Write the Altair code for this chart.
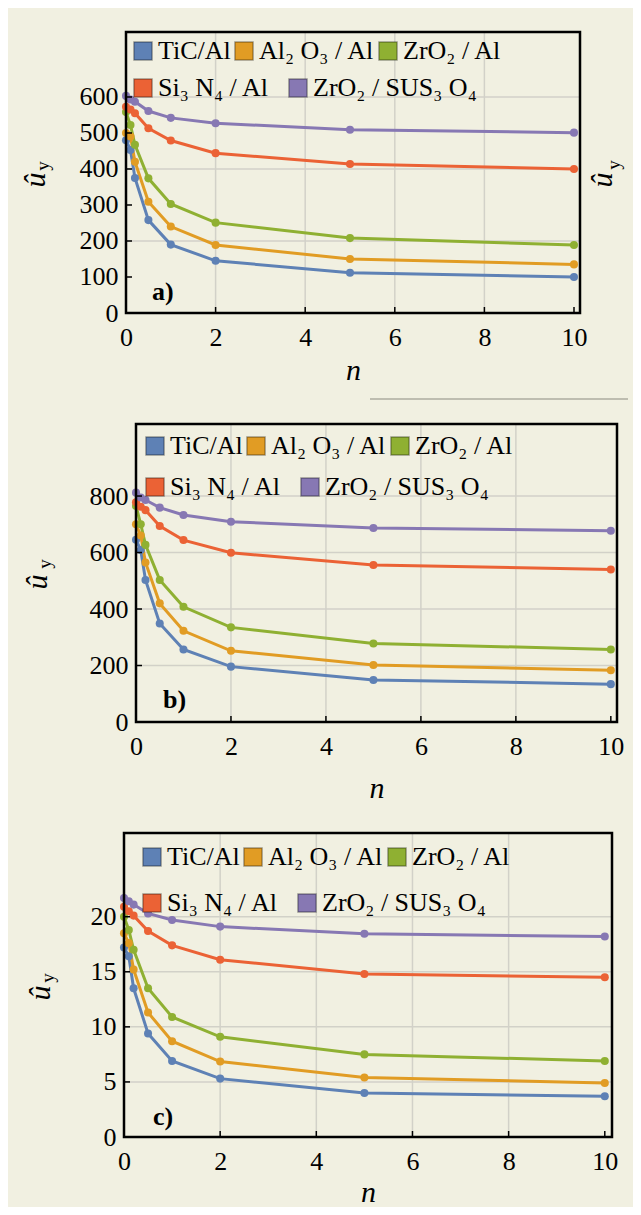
import altair as alt
import pandas as pd

# ---------------- data ----------------
N_VALUES = [0, 0.1, 0.2, 0.5, 1, 2, 5, 10]
SERIES = [
    "TiC/Al",
    "Al₂ O₃ / Al",
    "ZrO₂ / Al",
    "Si₃ N₄ / Al",
    "ZrO₂ / SUS₃ O₄",
]
ROW1 = SERIES[:3]
ROW2 = SERIES[3:]
COLORS = ["#5E81B5", "#E19C24", "#8FB032", "#EB6235", "#8778B3"]
X_TICKS = [0, 2, 4, 6, 8, 10]
X_GRID = [2, 4, 6, 8]

# panel a)
A_TIC = [480, 453, 375, 258, 190, 145, 112, 100]
A_AL2O3 = [500, 490, 420, 309, 240, 189, 150, 135]
A_ZRO2 = [558, 522, 467, 374, 303, 251, 208, 189]
A_SI3N4 = [573, 565, 555, 513, 479, 444, 414, 400]
A_SUS = [603, 593, 587, 561, 542, 527, 509, 501]
A_YTICKS = [0, 100, 200, 300, 400, 500, 600]
A_YGRID = [200, 400, 600]

# panel b)
B_TIC = [645, 609, 503, 349, 257, 196, 149, 134]
B_AL2O3 = [700, 660, 565, 420, 323, 252, 202, 183]
B_ZRO2 = [765, 700, 627, 503, 408, 335, 278, 257]
B_SI3N4 = [778, 762, 750, 694, 644, 599, 556, 540]
B_SUS = [812, 795, 786, 759, 733, 709, 687, 677]
B_YTICKS = [0, 200, 400, 600, 800]
B_YGRID = [200, 400, 600, 800]

# panel c)
C_TIC = [17.2, 16.4, 13.5, 9.4, 6.9, 5.3, 4.0, 3.7]
C_AL2O3 = [18.5, 17.6, 15.2, 11.3, 8.7, 6.85, 5.4, 4.9]
C_ZRO2 = [20.0, 18.8, 17.0, 13.5, 10.9, 9.1, 7.5, 6.9]
C_SI3N4 = [20.9, 20.5, 20.1, 18.7, 17.4, 16.1, 14.8, 14.5]
C_SUS = [21.7, 21.4, 21.1, 20.3, 19.7, 19.1, 18.45, 18.2]
C_YTICKS = [0, 5, 10, 15, 20]
C_YGRID = [5, 10, 15, 20]

# ---------------- style ----------------
BG = "#F1F0E1"
GRID = "#D2D1C8"
SERIF = "Liberation Serif, Tinos, Times New Roman, Times, serif"
LEFT = 116      # room left of the common plot origin
RIGHT_EDGE = 509  # right end of every cell, relative to the origin


def make_df(series_vals):
    rows = []
    for s, arr in zip(SERIES, series_vals):
        for n, v in zip(N_VALUES, arr):
            rows.append({"n": n, "v": v, "s": s, "s2": s})
    return pd.DataFrame(rows)


def txt(one, text, x, y, size, style="normal", weight="normal", angle=0,
        align="center"):
    return alt.Chart(one).mark_text(
        text=text, font=SERIF, fontSize=size, fontStyle=style,
        fontWeight=weight, angle=angle, align=align, baseline="alphabetic",
        color="black").encode(x=alt.value(x), y=alt.value(y))


def legend(values, x, y, colpad):
    return alt.Legend(
        title=None, orient="none", legendX=x, legendY=y,
        direction="horizontal", columns=len(values), values=values,
        symbolType="square", symbolSize=330, symbolStrokeWidth=1.5,
        symbolStrokeColor="#00000055", symbolOpacity=1,
        labelFont=SERIF, labelFontSize=26, labelColor="black",
        labelLimit=400, columnPadding=colpad, labelOffset=2, padding=0)


def panel(vals, dx, W, H, xmax, ymax, yticks, ygrid, T, B, tag, tag_pos,
          ut_pos, sub_pos, leg_x, leg_y1, leg_y2, xtitle_y, extras=None):
    df = make_df(vals)
    one = pd.DataFrame({"k": [0]})
    xs = alt.Scale(domain=[0, xmax], range=[dx, dx + W], nice=False, zero=False)
    ys = alt.Scale(domain=[0, ymax], nice=False, zero=False)
    xaxis = alt.Axis(values=X_TICKS, title="n", titleX=dx + W / 2,
                     titleY=xtitle_y, titleBaseline="alphabetic",
                     titleFont=SERIF, titleFontSize=30, titleFontStyle="italic",
                     titleFontWeight="normal", titleColor="black",
                     labelFont=SERIF, labelFontSize=26, labelColor="black",
                     labelPadding=11, labelFlush=False, labelOverlap=False,
                     domain=False, ticks=False, grid=False)
    yaxis = alt.Axis(values=yticks, title=None, labelPadding=8 - dx,
                     labelFont=SERIF, labelFontSize=26, labelColor="black",
                     labelFlush=False, labelOverlap=False,
                     domain=False, ticks=False, grid=False)

    def X():
        return alt.X("n:Q", scale=xs, axis=xaxis)

    def Y():
        return alt.Y("v:Q", scale=ys, axis=yaxis)

    spacer = alt.Chart(one).mark_rect(fillOpacity=0, strokeOpacity=0).encode(
        x=alt.value(-LEFT), x2=alt.value(RIGHT_EDGE),
        y=alt.value(-T), y2=alt.value(H + B))
    vgrid = alt.Chart(pd.DataFrame({"n": X_GRID})).mark_rule(
        color=GRID, strokeWidth=1.5).encode(x=X(), y=alt.value(0), y2=alt.value(H))
    hgrid = alt.Chart(pd.DataFrame({"v": ygrid})).mark_rule(
        color=GRID, strokeWidth=1.5).encode(
        y=Y(), x=alt.value(dx), x2=alt.value(dx + W))
    lines = []
    for s, c in zip(SERIES, COLORS):
        lines.append(alt.Chart(df[df["s"] == s]).mark_line(
            strokeWidth=3, color=c).encode(x=X(), y=Y()))
    pts = alt.Chart(df[df["s"].isin(ROW1)]).mark_circle(size=65, opacity=1).encode(
        x=X(), y=Y(),
        color=alt.Color("s:N", scale=alt.Scale(domain=ROW1, range=COLORS[:3]),
                        legend=legend(ROW1, leg_x, leg_y1, 0)))
    # second legend row (Mathematica-style flowing legend): the points of
    # the last two series, coloured through a second (fill) scale
    pts2 = alt.Chart(df[df["s"].isin(ROW2)]).mark_circle(
        size=65, opacity=1).encode(
        x=X(), y=Y(),
        fill=alt.Fill("s2:N", scale=alt.Scale(domain=ROW2, range=COLORS[3:]),
                      legend=legend(ROW2, leg_x, leg_y2, 15)))
    lticks = alt.Chart(pd.DataFrame({"v": yticks})).mark_rule(
        color="black", strokeWidth=1.5).encode(
        y=Y(), x=alt.value(dx), x2=alt.value(dx + 6))
    bticks = alt.Chart(pd.DataFrame({"n": X_TICKS})).mark_rule(
        color="black", strokeWidth=1.5).encode(
        x=X(), y=alt.value(H), y2=alt.value(H - 6))
    frame = alt.Chart(one).mark_rect(
        fillOpacity=0, stroke="black", strokeWidth=2.5).encode(
        x=alt.value(dx), x2=alt.value(dx + W), y=alt.value(0), y2=alt.value(H))
    tagt = txt(one, tag, tag_pos[0], tag_pos[1], 26, weight="bold", align="left")
    ut = txt(one, "û", ut_pos[0], ut_pos[1], 30, style="italic", angle=270)
    sub = txt(one, "y", sub_pos[0], sub_pos[1], 19, angle=270)
    layers = [spacer, vgrid, hgrid] + lines + [pts, pts2, lticks, bticks, frame,
                                               tagt, ut, sub]
    if extras:
        layers += extras(one)
    return alt.layer(*layers).properties(width=dx + W, height=H)


def extras_a(one):
    # fragments of a neighbouring figure that appear in the original image
    ut = txt(one, "û", 488, 148, 30, style="italic", angle=270)
    sub = txt(one, "y", 496, 133, 19, angle=270)
    hline = alt.Chart(one).mark_rule(color="#8C8A80", strokeWidth=1.2).encode(
        x=alt.value(246), x2=alt.value(504), y=alt.value(367))
    return [ut, sub, hline]


pa = panel([A_TIC, A_AL2O3, A_ZRO2, A_SI3N4, A_SUS], 2, 454, 281, 10.134, 780.5,
           A_YTICKS, A_YGRID, 24, 40, "a)", (28, 268),
           (-79, 148), (-75, 134), 6, 6, 43, 66, extras_a)
pb = panel([B_TIC, B_AL2O3, B_ZRO2, B_SI3N4, B_SUS], 12, 481, 298, 10.13, 1055,
           B_YTICKS, B_YGRID, 0, 40, "b)", (39, 284),
           (-77, 158), (-73, 140), 18, 9, 50, 75)
pc = panel([C_TIC, C_AL2O3, C_ZRO2, C_SI3N4, C_SUS], 0, 488, 304, 10.15, 27.6,
           C_YTICKS, C_YGRID, 0, 63, "c)", (29, 292),
           (-74, 160), (-70, 145), 15, 11, 57, 64)

chart = alt.vconcat(pa, pb, pc, spacing=111, bounds="flush").resolve_scale(
    x="independent", y="independent", color="independent", fill="independent"
).resolve_legend(color="independent", fill="independent").properties(
    background=BG, padding=0
).configure_view(stroke=None, fill=None)

chart.save("out.html", embed_options={"renderer": "svg", "actions": False})
